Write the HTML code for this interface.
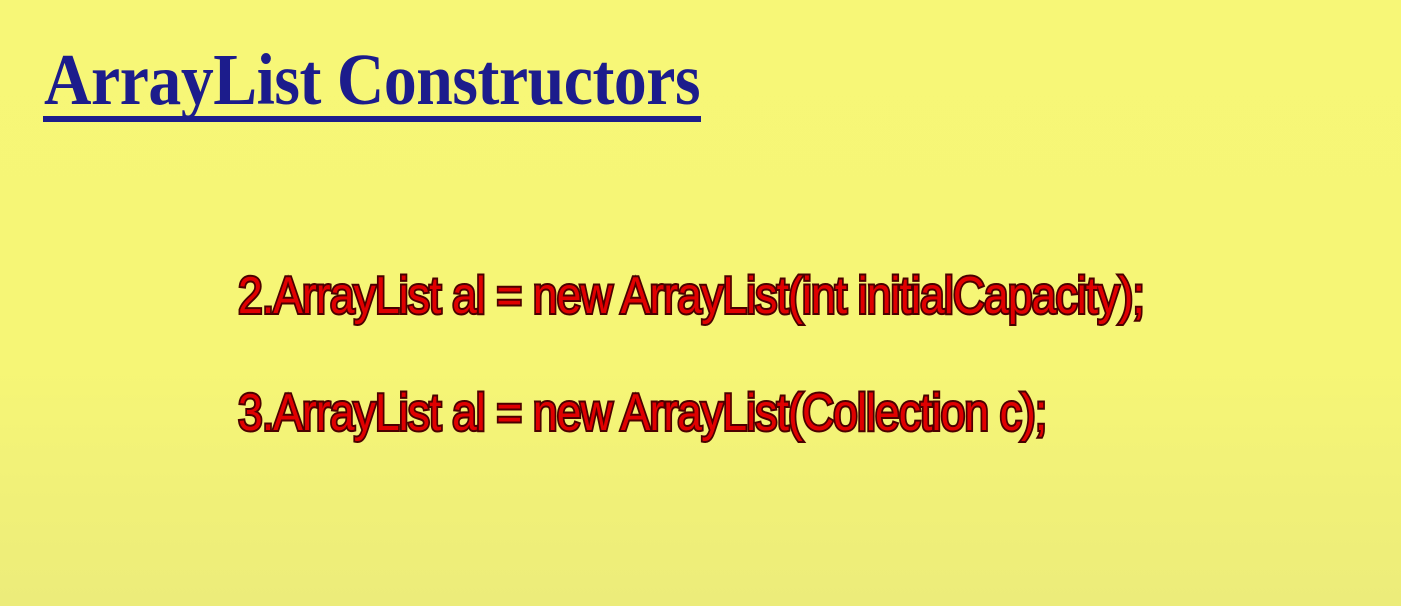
<!DOCTYPE html>
<html><head><meta charset="utf-8"><style>
html,body{margin:0;padding:0}
body{width:1401px;height:606px;overflow:hidden;position:relative;
background:linear-gradient(#f7f777 0%,#f6f676 60%,#ecec7a 100%);}
.t{position:absolute;left:44px;top:38px;font-family:"Liberation Serif",serif;font-weight:bold;font-size:73px;color:#1c1c8c;white-space:nowrap;letter-spacing:-0.5px;transform:scaleX(0.9);transform-origin:left top}
.u{position:absolute;left:43px;top:116px;width:658px;height:6px;background:#1c1c8c}
.r{position:absolute;left:238px;font-family:"Liberation Sans",sans-serif;font-size:52px;color:#e00000;white-space:nowrap;letter-spacing:-1px;
-webkit-text-stroke:4px #4a0000;paint-order:stroke fill;transform:scaleX(0.853);transform-origin:left top}
</style></head><body>
<div class="t">ArrayList Constructors</div>
<div class="u"></div>
<div class="r" style="top:266px">2.ArrayList al = new ArrayList(int initialCapacity);</div>
<div class="r" style="top:383px">3.ArrayList al = new ArrayList(Collection c);</div>
</body></html>
